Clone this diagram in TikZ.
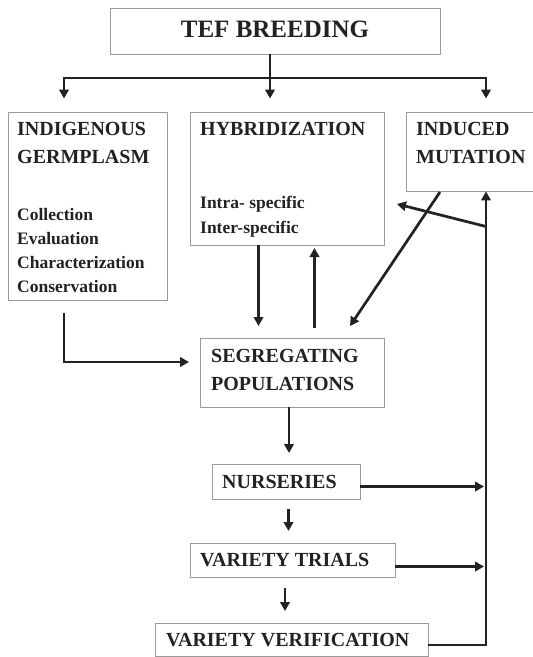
\documentclass[tikz,border=0pt]{standalone}
\usepackage{fontspec}
\setmainfont{Liberation Serif}
\usetikzlibrary{arrows.meta}
\definecolor{ink}{HTML}{222222}
\definecolor{frame}{HTML}{9A9A9A}
\tikzset{
  box/.style={draw=frame, line width=0.9pt, rectangle, inner sep=0pt},
  ttl/.style={font=\bfseries\fontsize{20}{20}\selectfont, text=ink, inner sep=0pt},
  sub/.style={font=\bfseries\fontsize{17.5}{17.5}\selectfont, text=ink, inner sep=0pt},
  ln/.style={draw=ink, line width=2.7pt},
  arr/.style={ln, -{Triangle[length=9pt,width=9.5pt]}},
}
\begin{document}
\begin{tikzpicture}[x=1pt,y=-1pt]
\useasboundingbox[fill=white] (0,0) rectangle (533,657);
% boxes
\node[box, minimum width=330pt, minimum height=46pt] (tef) at (275,31) {};
\node[box, minimum width=159pt, minimum height=188pt] (ind) at (87.5,206) {};
\node[box, minimum width=194pt, minimum height=133pt] (hyb) at (287,178.5) {};
\node[box, minimum width=128pt, minimum height=79pt] (mut) at (470,151.5) {};
\node[box, minimum width=184pt, minimum height=69pt] (seg) at (292,372.5) {};
\node[box, minimum width=148pt, minimum height=35pt] (nur) at (286,481.5) {};
\node[box, minimum width=205pt, minimum height=34pt] (tri) at (292.5,560) {};
\node[box, minimum width=273pt, minimum height=33pt] (ver) at (291.5,639.5) {};
% texts
\node[ttl, font=\bfseries\fontsize{25}{25}\selectfont, anchor=base] (tteft) at (275,37) {TEF BREEDING};
\node[ttl, anchor=base west] (tind1) at (17,135) {INDIGENOUS};
\node[ttl, anchor=base west] (tind2) at (17,163) {GERMPLASM};
\node[sub, anchor=base west] (tind3) at (17,220) {Collection};
\node[sub, anchor=base west] (tind4) at (17,244) {Evaluation};
\node[sub, anchor=base west] (tind5) at (17,268) {Characterization};
\node[sub, anchor=base west] (tind6) at (17,292) {Conservation};
\node[ttl, anchor=base west] (thyb1) at (200,135) {HYBRIDIZATION};
\node[sub, anchor=base west] (thyb2) at (200,208) {Intra- specific};
\node[sub, anchor=base west] (thyb3) at (200,233) {Inter-specific};
\node[ttl, anchor=base west] (tmut1) at (416,135) {INDUCED};
\node[ttl, anchor=base west] (tmut2) at (416,163) {MUTATION};
\node[ttl, anchor=base west] (tseg1) at (211,362.5) {SEGREGATING};
\node[ttl, anchor=base west] (tseg2) at (211,390) {POPULATIONS};
\node[ttl, anchor=base west] (tnur) at (222,488) {NURSERIES};
\node[ttl, anchor=base west] (ttri) at (200,566.5) {VARIETY TRIALS};
\node[ttl, anchor=base west] (tver) at (166,646.5) {VARIETY VERIFICATION};
% coordinates
\coordinate (jc) at (270,78);
\coordinate (jl) at (64,78);
\coordinate (jr) at (486,78);
\coordinate (hd1) at (258.5,245);
\coordinate (hd2) at (258.5,326);
\coordinate (hu1) at (314.5,328);
\coordinate (hu2) at (314.5,248);
\coordinate (md1) at (440,192);
\coordinate (md2) at (350,326);
\coordinate (rb) at (486,226.5);
\coordinate (hb) at (397,204);
\coordinate (rv) at (486,645);
\coordinate (sd1) at (289,407);
\coordinate (sd2) at (289,453);
\coordinate (nd1) at (288.5,509);
\coordinate (nd2) at (288.5,531);
\coordinate (td1) at (285,588);
\coordinate (td2) at (285,611);
\coordinate (id1) at (64,313);
\coordinate (id2) at (64,362);
\coordinate (id3) at (189,362);
% connectors
\draw[ln] (tef.south -| jc) -- (jc);
\draw[ln, line cap=rect] (jl) -- (jr);
\draw[arr, shorten >=13pt] (jl) -- (jl |- ind.north);
\draw[arr, shorten >=13pt] (jc) -- (jc |- hyb.north);
\draw[arr, shorten >=13pt] (jr) -- (jr |- mut.north);
\draw[arr] (hd1) -- (hd2);
\draw[arr] (hu1) -- (hu2);
\draw[arr] (md1) -- (md2);
\draw[arr] (rb) -- (hb);
\draw[arr] (ver.east |- rv) -- (rv) -- (rv |- mut.south);
\draw[arr, shorten >=2pt] (nur.east) ++(0,5) coordinate (ne) (ne) -- (ne -| rv);
\draw[arr, shorten >=2pt] (tri.east) ++(0,6.5) coordinate (te) (te) -- (te -| rv);
\draw[arr] (sd1) -- (sd2);
\draw[arr] (nd1) -- (nd2);
\draw[arr] (td1) -- (td2);
\draw[arr] (id1) -- (id2) -- (id3);
\end{tikzpicture}
\end{document}
